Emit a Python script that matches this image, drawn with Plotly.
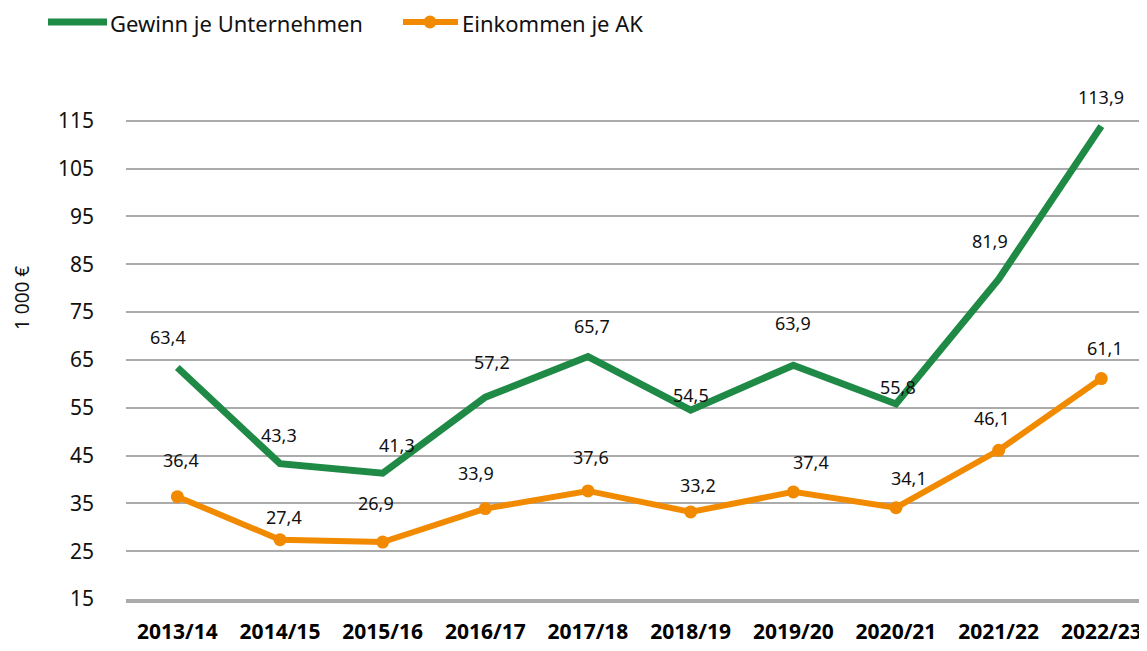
import plotly.graph_objects as go

# ---------------- data ----------------
categories = ["2013/14", "2014/15", "2015/16", "2016/17", "2017/18",
              "2018/19", "2019/20", "2020/21", "2021/22", "2022/23"]
gewinn = [63.4, 43.3, 41.3, 57.2, 65.7, 54.5, 63.9, 55.8, 81.9, 113.9]
einkommen = [36.4, 27.4, 26.9, 33.9, 37.6, 33.2, 37.4, 34.1, 46.1, 61.1]
y_ticks = [15, 25, 35, 45, 55, 65, 75, 85, 95, 105, 115]
series_names = ["Gewinn je Unternehmen", "Einkommen je AK"]
y_title = "1 000 €"

# ---------------- style ----------------
GREEN = "#1E8A45"
ORANGE = "#F28A00"
GRID = "#ABABAB"
OFF = 8  # page body margin of the html page
W, H = 1147 - OFF, 651 - OFF
ML, MR, MT, MB = 118, 0, 65, 52
PW, PH = W - ML - MR, H - MT - MB

# label pixel offsets (dx right, dy down) relative to each point
green_off = [(-9, -31), (-1, -29), (14, -28), (7, -35), (4, -31),
             (0, -15), (0, -42), (2, -17), (-9, -38), (0, -29)]
orange_off = [(4, -37), (4, -23), (-7, -39), (-9, -36), (3, -34),
              (7, -27), (18, -30), (13, -30), (-7, -32), (4, -31)]


def px(x):
    return (x - OFF - ML) / PW


def py(y):
    return (MT + PH - (y - OFF)) / PH


def fmt(v):
    return f"{v:.1f}".replace(".", ",")


fig = go.Figure()
fig.add_trace(go.Scatter(x=categories, y=gewinn, mode="lines", name=series_names[0],
                         line=dict(color=GREEN, width=7), showlegend=False))
fig.add_trace(go.Scatter(x=categories, y=einkommen, mode="lines+markers", name=series_names[1],
                         line=dict(color=ORANGE, width=6),
                         marker=dict(color=ORANGE, size=13), showlegend=False))

label_font = dict(family="Noto Sans", size=18, color="#111111")
for vals, offs in ((gewinn, green_off), (einkommen, orange_off)):
    for c, v, (dx, dy) in zip(categories, vals, offs):
        fig.add_annotation(x=c, y=v, text=fmt(v), showarrow=False,
                           xanchor="center", yanchor="middle",
                           xshift=dx, yshift=-dy, font=label_font)

# custom legend
leg_y = py(22)
fig.add_shape(type="line", xref="paper", yref="paper",
              x0=px(48), x1=px(107), y0=leg_y, y1=leg_y,
              line=dict(color=GREEN, width=7))
fig.add_shape(type="line", xref="paper", yref="paper",
              x0=px(403), x1=px(458), y0=leg_y, y1=leg_y,
              line=dict(color=ORANGE, width=6))
r = 6.5
fig.add_shape(type="circle", xref="paper", yref="paper",
              x0=px(430 - r), x1=px(430 + r), y0=py(22 + r), y1=py(22 - r),
              fillcolor=ORANGE, line=dict(color=ORANGE, width=0))
leg_font = dict(family="Noto Sans", size=22, color="#111111")
leg_text_y = py(23)
fig.add_annotation(xref="paper", yref="paper", x=px(108), y=leg_text_y, text=series_names[0],
                   showarrow=False, xanchor="left", yanchor="middle", font=leg_font)
fig.add_annotation(xref="paper", yref="paper", x=px(460), y=leg_text_y, text=series_names[1],
                   showarrow=False, xanchor="left", yanchor="middle", font=leg_font)

# y axis title
fig.add_annotation(xref="paper", yref="paper", x=px(22), y=py(298), text=y_title,
                   showarrow=False, textangle=-90, xanchor="center", yanchor="middle",
                   font=dict(family="Noto Sans", size=19, color="#111111"))

fig.update_layout(
    width=W, height=H,
    margin=dict(l=ML, r=MR, t=MT, b=MB, autoexpand=False),
    paper_bgcolor="white", plot_bgcolor="white",
    showlegend=False,
    xaxis=dict(type="category", range=[-0.5, 9.445], showgrid=False, zeroline=False,
               showline=True, linecolor=GRID, linewidth=4, automargin=False,
               ticks="", ticklabelstandoff=11,
               tickfont=dict(family="Noto Sans", size=21, color="#000000", weight="bold")),
    yaxis=dict(range=[15, 125], tickvals=y_ticks, ticktext=[str(t) for t in y_ticks],
               showgrid=True, gridcolor=GRID, gridwidth=2, zeroline=False, automargin=False,
               showline=False, ticks="", ticklabelstandoff=31,
               tickfont=dict(family="Noto Sans", size=21, color="#111111")),
)

fig.write_html("out.html")
